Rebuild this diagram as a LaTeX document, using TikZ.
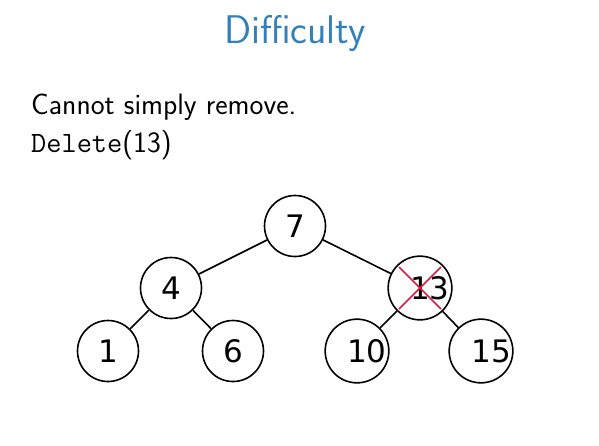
\documentclass[tikz,border=0pt]{standalone}
\usepackage{fontspec}
\newfontfamily\keyfont{DejaVu Sans}
\usetikzlibrary{positioning}
\definecolor{titleblue}{RGB}{51,128,187}
\definecolor{crossred}{RGB}{218,28,64}
\tikzset{
  key/.style={draw,circle,line width=1.6pt,minimum size=61pt,inner sep=0pt,font=\keyfont\fontsize{31}{31}\selectfont},
  widekey/.style={key,execute at begin node={\hspace*{20pt}}},
  edge/.style={line width=1.6pt},
  slidetext/.style={anchor=base west,inner sep=0pt,font=\sffamily\fontsize{29.5}{29.5}\selectfont}
}
\begin{document}
\begin{tikzpicture}[x=1pt,y=-1pt]
\useasboundingbox (0,0) rectangle (599,445);
\node[anchor=base,inner sep=0pt,text=titleblue,font=\sffamily\fontsize{40}{40}\selectfont] (title) at (295,43) {Difficulty};
\node[slidetext] (line1) at (31,114) {Cannot simply remove.};
\node[slidetext] (line2) at (31,152) {\texttt{Delete}(13)};
\node[key] (n7) at (295,226) {7};
\node[key] (n4) at (171,288) {4};
\node[widekey] (n13) at (420,288) {13};
\node[key] (n1) at (108,351) {1};
\node[key] (n6) at (233,351) {6};
\node[widekey] (n10) at (357,351) {10};
\node[widekey] (n15) at (481,351) {15};
\foreach \a/\b in {n7/n4,n7/n13,n4/n1,n4/n6,n13/n10,n13/n15}{
\draw [edge] (\a) -- (\b);
}
\draw [crossred,line width=1.6pt] ([shift={(-21,-21)}]n13.center) -- ([shift={(21,21)}]n13.center);
\draw [crossred,line width=1.6pt] ([shift={(21,-21)}]n13.center) -- ([shift={(-21,21)}]n13.center);
\end{tikzpicture}
\end{document}
